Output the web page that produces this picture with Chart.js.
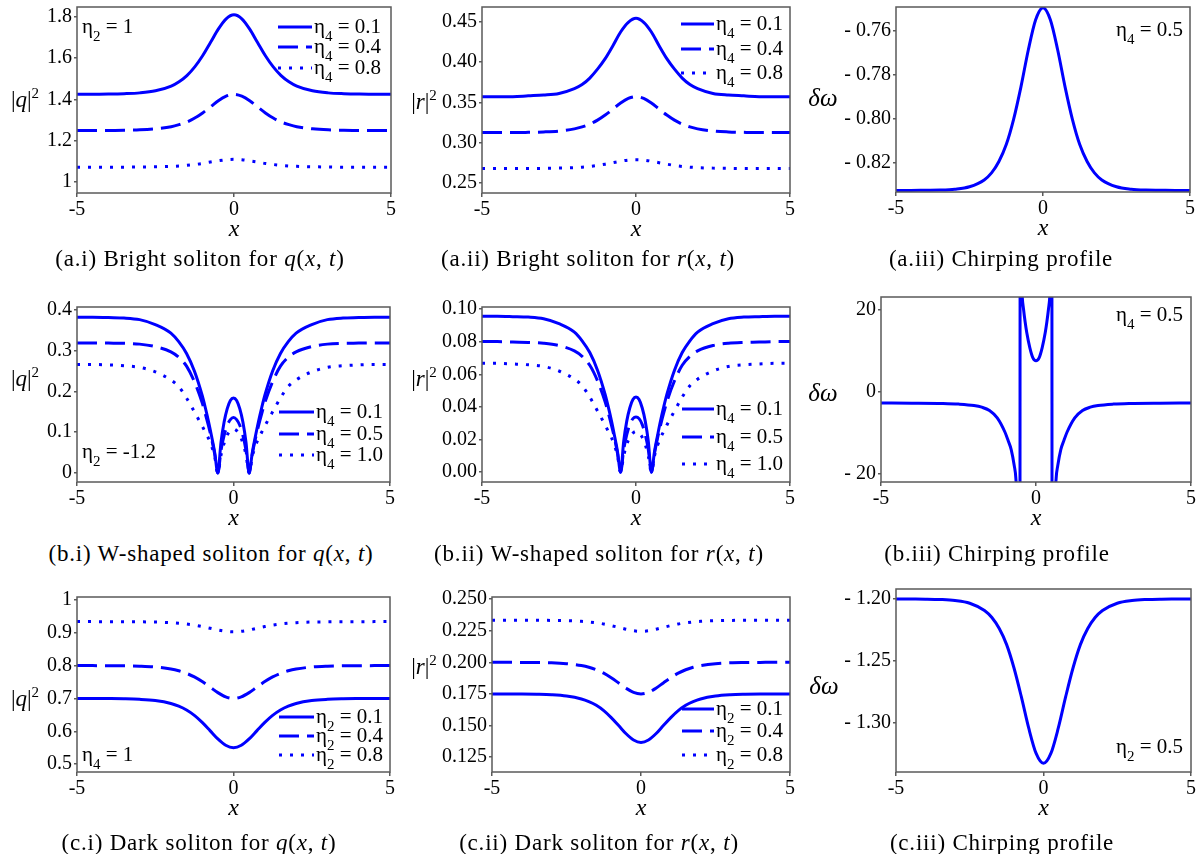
<!DOCTYPE html>
<html><head><meta charset="utf-8">
<script src="https://cdn.jsdelivr.net/npm/chart.js@4.4.1/dist/chart.umd.min.js"></script>
<style>
body{margin:0;background:#fff;}
#page{position:relative;width:1200px;height:854px;overflow:hidden;font-family:"Liberation Serif","Times New Roman","DejaVu Serif",serif;color:#000;background:#fff;}
canvas{position:absolute;}
.lbl{position:absolute;white-space:nowrap;transform:translate(-50%,-50%);line-height:1;}
.cap{font-size:23px;letter-spacing:0.8px;}
.ax{font-size:24px;font-style:italic;}
.yl{font-size:23px;}
.yl sup{font-size:15px;vertical-align:9px;font-style:normal;}
.dw{font-size:25px;font-style:italic;}
</style></head><body><div id="page"><span style="position:absolute;left:-100px;top:-100px;font-family:'Liberation Serif'">a<i>a</i></span></div>
<script>
// ---------- x grids ----------
const xS = [-5,-4.5,-4,-3.5,-3,-2.5,-2,-1.75,-1.5,-1.25,-1,-0.75,-0.5,-0.25,0,0.25,0.5,0.75,1,1.25,1.5,1.75,2,2.5,3,3.5,4,4.5,5];
const xW = [-5,-4.5,-4,-3.5,-3,-2.5,-2,-1.75,-1.5,-1.25,-1,-0.9,-0.8,-0.7,-0.6,-0.5,-0.4,-0.3,-0.2,-0.1,0,0.1,0.2,0.3,0.4,0.5,0.6,0.7,0.8,0.9,1,1.25,1.5,1.75,2,2.5,3,3.5,4,4.5,5];
const xC = [-5,-4,-3,-2.5,-2,-1.75,-1.5,-1.25,-1,-0.9,-0.8,-0.7,-0.65,-0.6,-0.52,-0.51,-0.47,-0.45,-0.4,-0.35,-0.3,-0.2,-0.1,0,0.1,0.2,0.3,0.35,0.4,0.45,0.47,0.51,0.52,0.6,0.65,0.7,0.8,0.9,1,1.25,1.5,1.75,2,2.5,3,4,5];

// ---------- (a.i) |q|^2 bright ----------
const aiEta01 = [1.425,1.425,1.426,1.428,1.432,1.442,1.465,1.486,1.516,1.558,1.612,1.676,1.741,1.791,1.810,1.791,1.741,1.676,1.612,1.558,1.516,1.486,1.465,1.442,1.432,1.428,1.426,1.425,1.425];
const aiEta04 = [1.250,1.250,1.250,1.251,1.253,1.258,1.268,1.278,1.291,1.310,1.335,1.364,1.394,1.416,1.425,1.416,1.394,1.364,1.335,1.310,1.291,1.278,1.268,1.258,1.253,1.251,1.250,1.250,1.250];
const aiEta08 = [1.072,1.072,1.072,1.072,1.073,1.074,1.076,1.078,1.081,1.085,1.090,1.097,1.103,1.108,1.110,1.108,1.103,1.097,1.090,1.085,1.081,1.078,1.076,1.074,1.073,1.072,1.072,1.072,1.072];
// ---------- (a.ii) |r|^2 bright ----------
const aiiEta01 = [0.357,0.357,0.357,0.358,0.359,0.361,0.367,0.372,0.380,0.391,0.404,0.420,0.437,0.449,0.454,0.449,0.437,0.420,0.404,0.391,0.380,0.372,0.367,0.361,0.359,0.358,0.357,0.357,0.357];
const aiiEta04 = [0.3125,0.3125,0.3125,0.3128,0.3133,0.3144,0.3171,0.3195,0.3230,0.3279,0.3342,0.3416,0.3491,0.3548,0.3570,0.3548,0.3491,0.3416,0.3342,0.3279,0.3230,0.3195,0.3171,0.3144,0.3133,0.3128,0.3125,0.3125,0.3125];
const aiiEta08 = [0.268,0.268,0.268,0.268,0.2682,0.2685,0.2691,0.2697,0.2706,0.2718,0.2734,0.2752,0.2770,0.2785,0.2790,0.2785,0.2770,0.2752,0.2734,0.2718,0.2706,0.2697,0.2691,0.2685,0.2682,0.268,0.268,0.268,0.268];
// ---------- (a.iii) chirp ----------
const aiiiChirp = [-0.8328,-0.8328,-0.8327,-0.8326,-0.8322,-0.8311,-0.8280,-0.8248,-0.8196,-0.8119,-0.8004,-0.7856,-0.7688,-0.7550,-0.7495,-0.7550,-0.7688,-0.7856,-0.8004,-0.8119,-0.8196,-0.8248,-0.8280,-0.8311,-0.8322,-0.8326,-0.8327,-0.8328,-0.8328];

// ---------- (b.i) |q|^2 W-shaped ----------
const biEta01 = [0.382,0.382,0.381,0.380,0.376,0.364,0.343,0.322,0.293,0.250,0.190,0.160,0.127,0.090,0.050,0.000,0.075,0.125,0.158,0.178,0.184,0.178,0.158,0.125,0.075,0.000,0.050,0.090,0.127,0.160,0.190,0.250,0.293,0.322,0.343,0.364,0.376,0.380,0.381,0.382,0.382];
const biEta05 = [0.319,0.319,0.3185,0.318,0.316,0.310,0.297,0.284,0.262,0.224,0.172,0.145,0.116,0.084,0.046,0.000,0.055,0.092,0.117,0.131,0.136,0.131,0.117,0.092,0.055,0.000,0.046,0.084,0.116,0.145,0.172,0.224,0.262,0.284,0.297,0.310,0.316,0.318,0.3185,0.319,0.319];
const biEta10 = [0.266,0.266,0.265,0.263,0.259,0.248,0.228,0.212,0.184,0.150,0.115,0.100,0.085,0.066,0.040,0.000,0.044,0.073,0.093,0.104,0.108,0.104,0.093,0.073,0.044,0.000,0.040,0.066,0.085,0.100,0.115,0.150,0.184,0.212,0.228,0.248,0.259,0.263,0.265,0.266,0.266];
// ---------- (b.ii) |r|^2 W-shaped ----------
const biiEta01 = [0.0955,0.0955,0.0953,0.0950,0.0940,0.0910,0.0858,0.0805,0.0733,0.0625,0.0475,0.0400,0.0318,0.0225,0.0125,0.0000,0.0188,0.0313,0.0395,0.0445,0.0460,0.0445,0.0395,0.0313,0.0188,0.0000,0.0125,0.0225,0.0318,0.0400,0.0475,0.0625,0.0733,0.0805,0.0858,0.0910,0.0940,0.0950,0.0953,0.0955,0.0955];
const biiEta05 = [0.0800,0.0800,0.0797,0.0795,0.0790,0.0776,0.0743,0.0710,0.0655,0.0560,0.0430,0.0363,0.0290,0.0210,0.0115,0.0000,0.0138,0.0230,0.0293,0.0328,0.0338,0.0328,0.0293,0.0230,0.0138,0.0000,0.0115,0.0210,0.0290,0.0363,0.0430,0.0560,0.0655,0.0710,0.0743,0.0776,0.0790,0.0795,0.0797,0.0800,0.0800];
const biiEta10 = [0.0667,0.0667,0.0663,0.0658,0.0648,0.0620,0.0570,0.0530,0.0460,0.0375,0.0288,0.0250,0.0213,0.0165,0.0100,0.0000,0.0100,0.0170,0.0215,0.0240,0.0250,0.0240,0.0215,0.0170,0.0100,0.0000,0.0100,0.0165,0.0213,0.0250,0.0288,0.0375,0.0460,0.0530,0.0570,0.0620,0.0648,0.0658,0.0663,0.0667,0.0667];
// ---------- (b.iii) chirp ----------
const biiiChirp = [-2.7,-2.72,-2.8,-2.95,-3.3,-3.7,-4.5,-6.3,-9.8,-11.8,-14,-18,-21,-30,-100,100,30,24,20,17,14.5,10.8,8.3,7.6,8.3,10.8,14.5,17,20,24,30,100,-100,-30,-21,-18,-14,-11.8,-9.8,-6.3,-4.5,-3.7,-3.3,-2.95,-2.8,-2.72,-2.7];

// ---------- (c.i) |q|^2 dark ----------
const ciEta01 = [0.700,0.700,0.6996,0.6989,0.6973,0.6935,0.6845,0.6763,0.6646,0.6483,0.6270,0.6021,0.5767,0.5574,0.5500,0.5574,0.5767,0.6021,0.6270,0.6483,0.6646,0.6763,0.6845,0.6935,0.6973,0.6989,0.6996,0.700,0.700];
const ciEta04 = [0.800,0.800,0.7997,0.7993,0.7982,0.7957,0.7896,0.7842,0.7764,0.7655,0.7513,0.7347,0.7178,0.7049,0.7000,0.7049,0.7178,0.7347,0.7513,0.7655,0.7764,0.7842,0.7896,0.7957,0.7982,0.7993,0.7997,0.800,0.800];
const ciEta08 = [0.934,0.934,0.9339,0.9338,0.9334,0.9327,0.9308,0.9291,0.9267,0.9233,0.9189,0.9138,0.9085,0.9045,0.9030,0.9045,0.9085,0.9138,0.9189,0.9233,0.9267,0.9291,0.9308,0.9327,0.9334,0.9338,0.9339,0.934,0.934];
// ---------- (c.ii) |r|^2 dark ----------
const ciiEta01 = [0.175,0.175,0.1749,0.1747,0.1743,0.1733,0.1710,0.1689,0.1660,0.1618,0.1563,0.1500,0.1435,0.1386,0.1367,0.1386,0.1435,0.1500,0.1563,0.1618,0.1660,0.1689,0.1710,0.1733,0.1743,0.1747,0.1749,0.175,0.175];
const ciiEta04 = [0.200,0.200,0.1999,0.1998,0.1996,0.1989,0.1974,0.1961,0.1941,0.1914,0.1878,0.1837,0.1795,0.1762,0.1750,0.1762,0.1795,0.1837,0.1878,0.1914,0.1941,0.1961,0.1974,0.1989,0.1996,0.1998,0.1999,0.200,0.200];
const ciiEta08 = [0.2333,0.2333,0.2333,0.2332,0.2331,0.2329,0.2324,0.2319,0.2312,0.2303,0.2290,0.2276,0.2261,0.2249,0.2245,0.2249,0.2261,0.2276,0.2290,0.2303,0.2312,0.2319,0.2324,0.2329,0.2331,0.2332,0.2333,0.2333,0.2333];
// ---------- (c.iii) chirp ----------
const ciiiChirp = [-1.2000,-1.2001,-1.2002,-1.2005,-1.2013,-1.2035,-1.2094,-1.2151,-1.2240,-1.2370,-1.2559,-1.2793,-1.3046,-1.3250,-1.3330,-1.3250,-1.3046,-1.2793,-1.2559,-1.2370,-1.2240,-1.2151,-1.2094,-1.2035,-1.2013,-1.2005,-1.2002,-1.2001,-1.2000];

// ---------- tick values / labels ----------
const xTickVals = [-5,0,5];
const xTickLabels = ['-5','0','5'];
const yTicksAI = [1,1.2,1.4,1.6,1.8],            yLabAI = ['1','1.2','1.4','1.6','1.8'];
const yTicksAII = [0.25,0.30,0.35,0.40,0.45],    yLabAII = ['0.25','0.30','0.35','0.40','0.45'];
const yTicksAIII = [-0.82,-0.80,-0.78,-0.76],    yLabAIII = ['- 0.82','- 0.80','- 0.78','- 0.76'];
const yTicksBI = [0,0.1,0.2,0.3,0.4],            yLabBI = ['0','0.1','0.2','0.3','0.4'];
const yTicksBII = [0,0.02,0.04,0.06,0.08,0.10],  yLabBII = ['0.00','0.02','0.04','0.06','0.08','0.10'];
const yTicksBIII = [-20,0,20],                   yLabBIII = ['- 20','0','20'];
const yTicksCI = [0.5,0.6,0.7,0.8,0.9,1],        yLabCI = ['0.5','0.6','0.7','0.8','0.9','1'];
const yTicksCII = [0.125,0.150,0.175,0.200,0.225,0.250], yLabCII = ['0.125','0.150','0.175','0.200','0.225','0.250'];
const yTicksCIII = [-1.30,-1.25,-1.20],          yLabCIII = ['- 1.30','- 1.25','- 1.20'];

// ---------- legend texts ----------
const legAI = [['4',' = 0.1'],['4',' = 0.4'],['4',' = 0.8']];
const legBI = [['4',' = 0.1'],['4',' = 0.5'],['4',' = 1.0']];
const legCI = [['2',' = 0.1'],['2',' = 0.4'],['2',' = 0.8']];

// ---------- styling ----------
const FONT = '"Liberation Serif", "Times New Roman", "DejaVu Serif", serif';
const BLUE = '#0000ff';
const FRAME = '#5a5a5a';
const SOLID = [], DASHED = [20, 8], DOTTED = [3, 8];
const TXT = 21;
const page = document.getElementById('page');

const panels = [
  {frame:[77,5,391,193], xs:xS, series:[aiEta01,aiEta04,aiEta08], dash:[SOLID,DASHED,DOTTED], ymin:0.947, ymax:1.848, yt:yTicksAI, yl:yLabAI,
   legend:{items:legAI, x0:-113, x1:-79, rows:[20,40,61]}, note:{sub:'2', rest:' = 1', fromLeft:true, dx:5, dy:20}},
  {frame:[482,5,790,193], xs:xS, series:[aiiEta01,aiiEta04,aiiEta08], dash:[SOLID,DASHED,DOTTED], ymin:0.2377, ymax:0.468, yt:yTicksAII, yl:yLabAII,
   legend:{items:legAI, x0:-109, x1:-76, rows:[17,42,66]}},
  {frame:[896,5,1190,192], xs:xS, series:[aiiiChirp], dash:[SOLID], ymin:-0.8335, ymax:-0.7492, yt:yTicksAIII, yl:yLabAIII,
   note:{sub:'4', rest:' = 0.5', fromLeft:false, dx:-74, dy:23}},
  {frame:[77,305,390,482], xs:xW, series:[biEta01,biEta05,biEta10], dash:[SOLID,DASHED,DOTTED], ymin:-0.022, ymax:0.407, yt:yTicksBI, yl:yLabBI,
   legend:{items:legBI, x0:-111, x1:-76, rows:[105,127,148]}, note:{sub:'2', rest:' = -1.2', fromLeft:true, dx:5, dy:145}},
  {frame:[482,305,790,482], xs:xW, series:[biiEta01,biiEta05,biiEta10], dash:[SOLID,DASHED,DOTTED], ymin:-0.006, ymax:0.1012, yt:yTicksBII, yl:yLabBII,
   legend:{items:legBI, x0:-108, x1:-76, rows:[102,130,157]}},
  {frame:[881,295,1191,482], xs:xC, series:[biiiChirp], dash:[SOLID], ymin:-21.9, ymax:23.1, yt:yTicksBIII, yl:yLabBIII,
   note:{sub:'4', rest:' = 0.5', fromLeft:false, dx:-75, dy:18}},
  {frame:[77,595,390,772], xs:xS, series:[ciEta01,ciEta04,ciEta08], dash:[SOLID,DASHED,DOTTED], ymin:0.476, ymax:1.009, yt:yTicksCI, yl:yLabCI,
   legend:{items:legCI, x0:-111, x1:-76, rows:[120,139,158]}, note:{sub:'4', rest:' = 1', fromLeft:true, dx:5, dy:158}},
  {frame:[492,595,790,772], xs:xS, series:[ciiEta01,ciiEta04,ciiEta08], dash:[SOLID,DASHED,DOTTED], ymin:0.1133, ymax:0.2516, yt:yTicksCII, yl:yLabCII,
   legend:{items:legCI, x0:-108, x1:-76, rows:[112,134,158]}},
  {frame:[896,587,1191,772], xs:xS, series:[ciiiChirp], dash:[SOLID], ymin:-1.34, ymax:-1.192, yt:yTicksCIII, yl:yLabCIII,
   note:{sub:'2', rest:' = 0.5', fromLeft:false, dx:-75, dy:158}}
];

function drawEta(ctx, x, y, sub, rest, size) {
  ctx.save();
  ctx.fillStyle = '#000';
  ctx.textAlign = 'left';
  ctx.textBaseline = 'alphabetic';
  const base = y + size * 0.27;
  ctx.font = size + 'px ' + FONT;
  ctx.fillText('\u03B7', x, base);
  let w = ctx.measureText('\u03B7').width;
  ctx.font = Math.round(size * 0.72) + 'px ' + FONT;
  ctx.fillText(sub, x + w, base + size * 0.4);
  w += ctx.measureText(sub).width;
  ctx.font = size + 'px ' + FONT;
  ctx.fillText(rest, x + w, base);
  ctx.restore();
}

const maplePlugin = {
  id: 'maple',
  afterDraw(chart, args, opts) {
    const p = opts.panel;
    const ctx = chart.ctx;
    const a = chart.chartArea;
    ctx.save();
    ctx.strokeStyle = FRAME;
    ctx.lineWidth = 1.5;
    ctx.setLineDash([]);
    ctx.strokeRect(a.left, a.top, a.right - a.left, a.bottom - a.top);
    if (p.legend) {
      p.legend.items.forEach((it, i) => {
        const y = a.top + p.legend.rows[i];
        ctx.strokeStyle = BLUE;
        ctx.lineWidth = 3;
        ctx.setLineDash(p.dash[i]);
        ctx.beginPath();
        ctx.moveTo(a.right + p.legend.x0, y);
        ctx.lineTo(a.right + p.legend.x1, y);
        ctx.stroke();
        drawEta(ctx, a.right + p.legend.x1 + 2, y, it[0], it[1], TXT);
      });
    }
    if (p.note) {
      const n = p.note;
      const x = n.fromLeft ? a.left + n.dx : a.right + n.dx;
      drawEta(ctx, x, a.top + n.dy, n.sub, n.rest, TXT);
    }
    ctx.restore();
  }
};

function axisCommon() {
  return {
    ticks: {font: {family: FONT, size: 20}, color: '#000', maxRotation: 0, autoSkip: false},
    grid: {drawOnChartArea: false, drawTicks: true, tickLength: 4, color: FRAME, lineWidth: 1.5},
    border: {display: false}
  };
}

function addText(x, y, html, cls) {
  const d = document.createElement('div');
  d.className = 'lbl ' + cls;
  d.style.left = x + 'px';
  d.style.top = y + 'px';
  d.innerHTML = html;
  page.appendChild(d);
}

let built = false;
function build() {
  if (built) return;
  built = true;
  panels.forEach(p => {
    const [L, T, R, B] = p.frame;
    const cw = R - L + 92, ch = B - T + 42;
    const cv = document.createElement('canvas');
    cv.width = cw; cv.height = ch;
    cv.style.left = (L - 80) + 'px';
    cv.style.top = (T - 12) + 'px';
    cv.style.width = cw + 'px';
    cv.style.height = ch + 'px';
    page.appendChild(cv);
    const xa = axisCommon(), ya = axisCommon();
    xa.ticks.padding = 1;
    xa.ticks.callback = (v, i) => xTickLabels[i];
    ya.ticks.padding = 2;
    ya.grid.tickLength = 3;
    ya.ticks.callback = (v, i) => p.yl[i];
    new Chart(cv, {
      type: 'line',
      data: {
        datasets: p.series.map((ys, i) => ({
          data: p.xs.map((x, j) => ({x: x, y: ys[j]})),
          borderColor: BLUE,
          borderWidth: 3,
          borderDash: p.dash[i],
          borderCapStyle: 'butt',
          pointRadius: 0,
          fill: false,
          cubicInterpolationMode: 'monotone'
        }))
      },
      options: {
        responsive: false,
        animation: false,
        layout: {padding: {left: 0, top: 12, right: 12, bottom: 0}},
        plugins: {legend: {display: false}, tooltip: {enabled: false}, maple: {panel: p}},
        scales: {
          x: Object.assign(xa, {type: 'linear', min: -5, max: 5,
            afterBuildTicks: s => { s.ticks = xTickVals.map(v => ({value: v})); },
            afterFit: s => { s.height = 30; }}),
          y: Object.assign(ya, {type: 'linear', min: p.ymin, max: p.ymax,
            afterBuildTicks: s => { s.ticks = p.yt.map(v => ({value: v})); },
            afterFit: s => { s.width = 80; }})
        }
      },
      plugins: [maplePlugin]
    });
    addText((L + R) / 2, B + 35, '<i>x</i>', 'ax');
  });

  const yTitles = [
    [25, 98, '|<i>q</i>|<sup>2</sup>', 'yl'], [424, 100, '|<i>r</i>|<sup>2</sup>', 'yl'], [823, 97, '<i>\u03B4\u03C9</i>', 'dw'],
    [25, 377, '|<i>q</i>|<sup>2</sup>', 'yl'], [424, 377, '|<i>r</i>|<sup>2</sup>', 'yl'], [823, 392, '<i>\u03B4\u03C9</i>', 'dw'],
    [25, 697, '|<i>q</i>|<sup>2</sup>', 'yl'], [424, 665, '|<i>r</i>|<sup>2</sup>', 'yl'], [824, 685, '<i>\u03B4\u03C9</i>', 'dw']
  ];
  yTitles.forEach(t => addText(t[0], t[1], t[2], t[3]));

  const captions = [
    [200, 258, '(a.i) Bright soliton for <i>q</i>(<i>x</i>, <i>t</i>)'],
    [588, 258, '(a.ii) Bright soliton for <i>r</i>(<i>x</i>, <i>t</i>)'],
    [1001, 258, '(a.iii) Chirping profile'],
    [211, 553, '(b.i) W-shaped soliton for <i>q</i>(<i>x</i>, <i>t</i>)'],
    [599, 553, '(b.ii) W-shaped soliton for <i>r</i>(<i>x</i>, <i>t</i>)'],
    [997, 553, '(b.iii) Chirping profile'],
    [199, 842, '(c.i) Dark soliton for <i>q</i>(<i>x</i>, <i>t</i>)'],
    [599, 842, '(c.ii) Dark soliton for <i>r</i>(<i>x</i>, <i>t</i>)'],
    [1002, 842, '(c.iii) Chirping profile']
  ];
  captions.forEach(c => addText(c[0], c[1], c[2], 'cap'));
}

if (document.fonts && document.fonts.load) {
  Promise.all([
    document.fonts.load('20px "Liberation Serif"'),
    document.fonts.load('italic 20px "Liberation Serif"')
  ]).then(build, build);
  setTimeout(build, 800);
} else {
  build();
}
</script>
</body></html>
